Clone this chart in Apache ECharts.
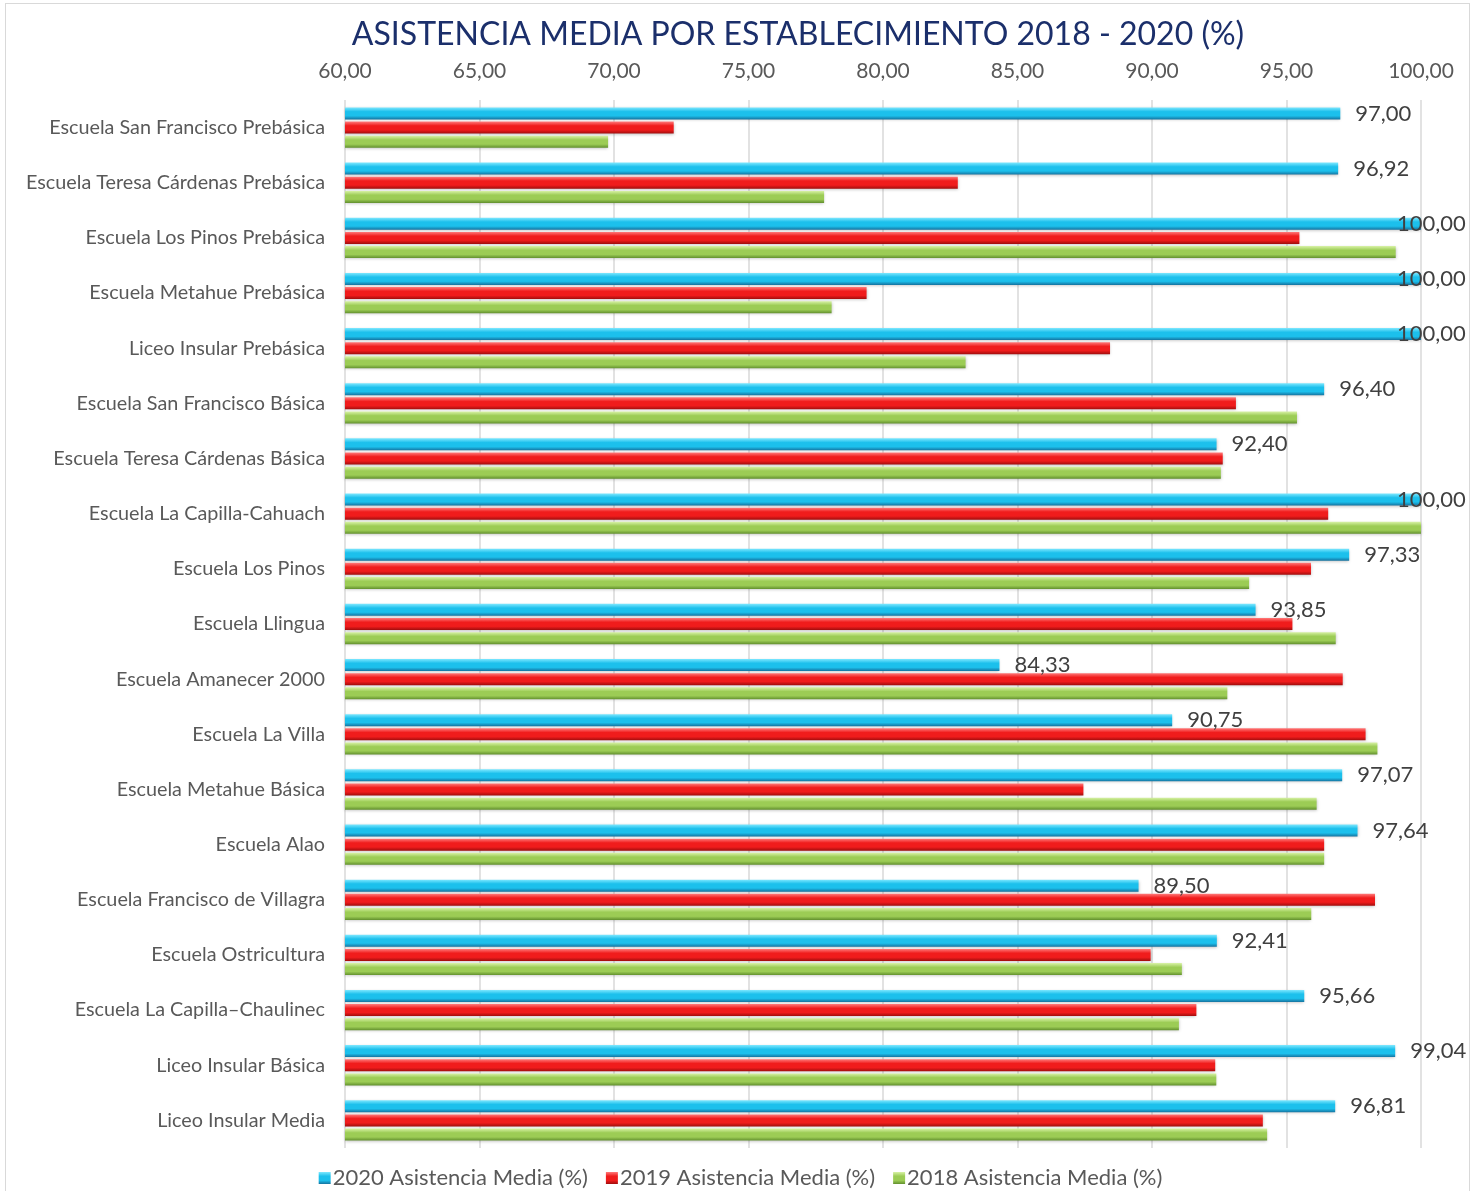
<!DOCTYPE html>
<html>
<head>
<meta charset="utf-8">
<script src="https://cdn.jsdelivr.net/npm/echarts@6/dist/echarts.min.js"></script>
<style>
  html, body { margin: 0; padding: 0; background: #fff; }
  #frame { position: absolute; left: 5px; top: 3px; width: 1465px; height: 1200px; border: 1px solid #d9d9d9; box-sizing: border-box; }
  #chart { position: absolute; left: 0; top: 0; width: 1481px; height: 1191px; }
</style>
</head>
<body>
<div id="frame"></div>
<div id="chart"></div>
<script>
const schools = [
  'Escuela San Francisco Prebásica',
  'Escuela Teresa Cárdenas Prebásica',
  'Escuela Los Pinos Prebásica',
  'Escuela Metahue Prebásica',
  'Liceo Insular Prebásica',
  'Escuela San Francisco Básica',
  'Escuela Teresa Cárdenas Básica',
  'Escuela La Capilla-Cahuach',
  'Escuela Los Pinos',
  'Escuela Llingua',
  'Escuela Amanecer 2000',
  'Escuela La Villa',
  'Escuela Metahue Básica',
  'Escuela Alao',
  'Escuela Francisco de Villagra',
  'Escuela Ostricultura',
  'Escuela La Capilla–Chaulinec',
  'Liceo Insular Básica',
  'Liceo Insular Media'
]
const asistencia2020 = [97.00, 96.92, 100.00, 100.00, 100.00, 96.40, 92.40, 100.00, 97.33, 93.85, 84.33, 90.75, 97.07, 97.64, 89.50, 92.41, 95.66, 99.04, 96.81]
const asistencia2019 = [72.22, 82.78, 95.48, 79.39, 88.44, 93.12, 92.63, 96.55, 95.91, 95.22, 97.09, 97.94, 87.45, 96.40, 98.29, 89.95, 91.65, 92.35, 94.12]
const asistencia2018 = [69.78, 77.81, 99.06, 78.09, 83.07, 95.39, 92.56, 100.00, 93.61, 96.83, 92.80, 98.38, 96.12, 96.40, 95.92, 91.11, 91.00, 92.39, 94.28]
const seriesNames = ['2020 Asistencia Media (%)', '2019 Asistencia Media (%)', '2018 Asistencia Media (%)']
const axisMin = 60, axisMax = 100, axisStep = 5

const fmt = v => v.toFixed(2).replace('.', ',')

// beveled look like the excel bars
function bevel(top, mid, bottom) {
  return new echarts.graphic.LinearGradient(0, 0, 0, 1, [
    { offset: 0, color: top },
    { offset: 0.35, color: mid },
    { offset: 0.7, color: mid },
    { offset: 1, color: bottom }
  ])
}
const blue = bevel('#7ee8ff', '#1cc0ec', '#1573a0')
const red = bevel('#ff7a7a', '#f01c1c', '#a00d0d')
const green = bevel('#d8f2a6', '#9ccc55', '#62902e')

const chart = echarts.init(document.getElementById('chart'))
const font = 'Lato'

function barSeries(name, values, color, withLabels) {
  return {
    name: name,
    type: 'bar',
    barWidth: 12,
    barGap: '18%',
    itemStyle: { color: color, shadowColor: 'rgba(0,0,0,0.25)', shadowBlur: 3, shadowOffsetY: 1 },
    label: withLabels ? {
      show: true,
      position: 'right',
      distance: 15,
      fontFamily: font,
      fontSize: 22,
      color: '#404040',
      formatter: p => fmt(p.value)
    } : { show: false },
    data: withLabels
      ? values.map(v => v >= axisMax ? { value: v, label: { offset: [-39, 0] } } : v)
      : values
  }
}

chart.setOption({
  animation: false,
  title: {
    text: 'ASISTENCIA MEDIA POR ESTABLECIMIENTO 2018 - 2020 (%)',
    left: 793,
    textAlign: 'center',
    top: 14,
    textStyle: { fontFamily: font, fontSize: 32, fontWeight: 'normal', color: '#1b2f6b' }
  },
  legend: {
    top: 1162,
    left: 'center',
    itemWidth: 12,
    itemHeight: 12,
    itemGap: 18,
    icon: 'rect',
    textStyle: { fontFamily: font, fontSize: 22, color: '#595959', padding: [0, 0, 0, -3] },
    data: seriesNames
  },
  grid: { left: 345, right: 60, top: 100, bottom: 43 },
  xAxis: {
    type: 'value',
    position: 'top',
    min: axisMin,
    max: axisMax,
    interval: axisStep,
    axisLine: { show: false },
    axisTick: { show: false },
    axisLabel: { fontFamily: font, fontSize: 21, color: '#595959', margin: 18, formatter: v => fmt(v) },
    splitLine: { lineStyle: { color: '#d9d9d9', width: 1.5 } }
  },
  yAxis: {
    type: 'category',
    inverse: true,
    data: schools,
    axisLine: { show: false },
    axisTick: { show: false },
    axisLabel: { fontFamily: font, fontSize: 19.8, color: '#595959', margin: 20, padding: [4, 0, 0, 0] }
  },
  series: [
    barSeries(seriesNames[0], asistencia2020, blue, true),
    barSeries(seriesNames[1], asistencia2019, red, false),
    barSeries(seriesNames[2], asistencia2018, green, false)
  ]
})
</script>
</body>
</html>
